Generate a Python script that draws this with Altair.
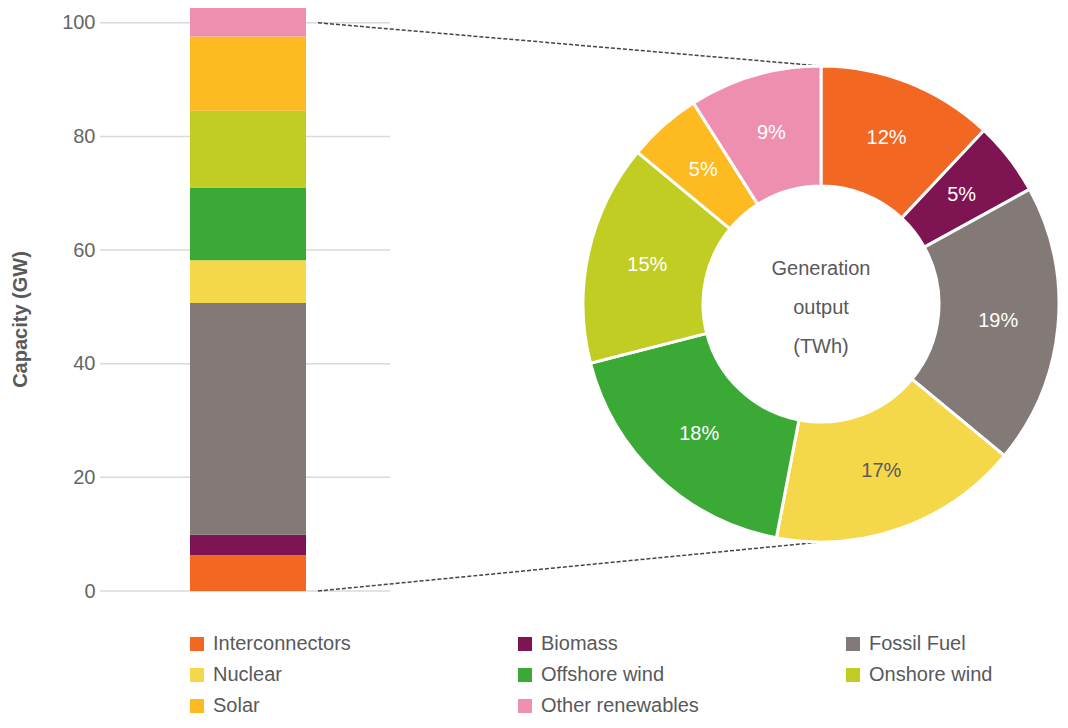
import altair as alt
import pandas as pd

# ---- data ----
sources = ["Interconnectors", "Biomass", "Fossil Fuel", "Nuclear",
           "Offshore wind", "Onshore wind", "Solar", "Other renewables"]
capacity_gw = [6.3, 3.6, 40.8, 7.5, 12.8, 13.5, 13.1, 5.3]
output_share = [12, 5, 19, 17, 18, 15, 5, 9]
colors = ["#F26722", "#7F1452", "#837A77", "#F5D849",
          "#3AA935", "#C2CD23", "#FDBA21", "#EF8FAF"]
y_ticks = [0, 20, 40, 60, 80, 100]
center_lines = ["Generation", "output", "(TWh)"]

# ---- layout (pixels, plot coordinates) ----
W, H = 960, 583
CX, CY, R_OUT, R_IN = 721, 296, 238, 118
FONT = "Liberation Sans"
TXT = "#58595B"

bar_df = pd.DataFrame({"source": sources, "capacity": capacity_gw,
                       "idx": list(range(len(sources)))})
pie_df = pd.DataFrame({"source": sources, "share": output_share,
                       "idx": list(range(len(sources))),
                       "label": [f"{v}%" for v in output_share]})
grid_df = pd.DataFrame({"tick": y_ticks})

yscale = alt.Scale(domain=[0, 102.6], nice=False, zero=True, padding=0)
cscale = alt.Scale(domain=sources, range=colors)
legend = alt.Legend(title=None, orient="none", legendX=87, legendY=626,
                    direction="horizontal", columns=3, gridAlign="all",
                    columnPadding=144, rowPadding=11, symbolType="square",
                    symbolSize=196, symbolStrokeWidth=0, labelFontSize=20,
                    labelColor=TXT, labelFont=FONT, labelOffset=6,
                    labelLimit=400)

grid = alt.Chart(grid_df).mark_rule(color="#dadada", strokeWidth=1.5).encode(
    y=alt.Y("tick:Q", scale=yscale),
    x=alt.value(0), x2=alt.value(290))

bar = alt.Chart(bar_df).transform_stack(
    stack="capacity", groupby=[], as_=["y0", "y1"],
    sort=[alt.SortField("idx", order="ascending")]
).mark_bar().encode(
    y=alt.Y("y0:Q", scale=yscale,
            axis=alt.Axis(values=y_ticks, grid=False, domain=False, ticks=False,
                          labelFontSize=20, labelColor="#666", labelFont=FONT,
                          labelPadding=5, title="Capacity (GW)",
                          titleFontSize=20, titleFontWeight="bold",
                          titleColor=TXT, titleFont=FONT, titleAngle=-90,
                          titleX=-80, titleY=311, titleAlign="center",
                          titleBaseline="middle")),
    y2="y1:Q",
    x=alt.value(90), x2=alt.value(206),
    color=alt.Color("source:N", scale=cscale, legend=legend))

top_line = alt.Chart(pd.DataFrame({"lvl": [y_ticks[-1]]})).mark_rule(
    color="#444", strokeDash=[4, 2], strokeWidth=1.5).encode(
    y=alt.Y("lvl:Q", scale=yscale), x=alt.value(218),
    x2=alt.value(CX), y2=alt.value(CY - R_OUT))
bot_line = alt.Chart(pd.DataFrame({"lvl": [y_ticks[0]]})).mark_rule(
    color="#444", strokeDash=[4, 2], strokeWidth=1.5).encode(
    y=alt.Y("lvl:Q", scale=yscale), x=alt.value(218),
    x2=alt.value(CX), y2=alt.value(CY + R_OUT))

arcs = alt.Chart(pie_df).mark_arc(innerRadius=R_IN, outerRadius=R_OUT,
                                   stroke="white", strokeWidth=3).encode(
    theta=alt.Theta("share:Q", stack=True),
    color=alt.Color("source:N", scale=cscale, legend=legend),
    order=alt.Order("idx:Q"),
    x=alt.value(CX), y=alt.value(CY))

labels = alt.Chart(pie_df).mark_text(radius=(R_IN + R_OUT) / 2, fontSize=20,
                                      font=FONT).encode(
    theta=alt.Theta("share:Q", stack=True),
    order=alt.Order("idx:Q"),
    text="label:N",
    color=alt.condition(alt.datum.source == "Nuclear",
                        alt.value("#58595B"), alt.value("white")),
    x=alt.value(CX), y=alt.value(CY))

center = alt.Chart(pd.DataFrame({"t": ["\n".join(center_lines)]})).mark_text(
    fontSize=20, font=FONT, color=TXT, lineBreak="\n", lineHeight=39,
    baseline="middle", align="center", dy=-35).encode(
    text="t:N", x=alt.value(CX), y=alt.value(CY))

chart = alt.layer(grid, bar, top_line, bot_line, arcs, labels, center).properties(
    width=W, height=H,
    padding={"left": 92, "top": 0, "right": 0, "bottom": 129},
    autosize=alt.AutoSizeParams(type="none"),
).resolve_scale(theta="shared").configure(
    font=FONT, view=alt.ViewConfig(stroke="transparent"))

chart.save("out.html", embed_options={"renderer": "svg", "actions": False})
